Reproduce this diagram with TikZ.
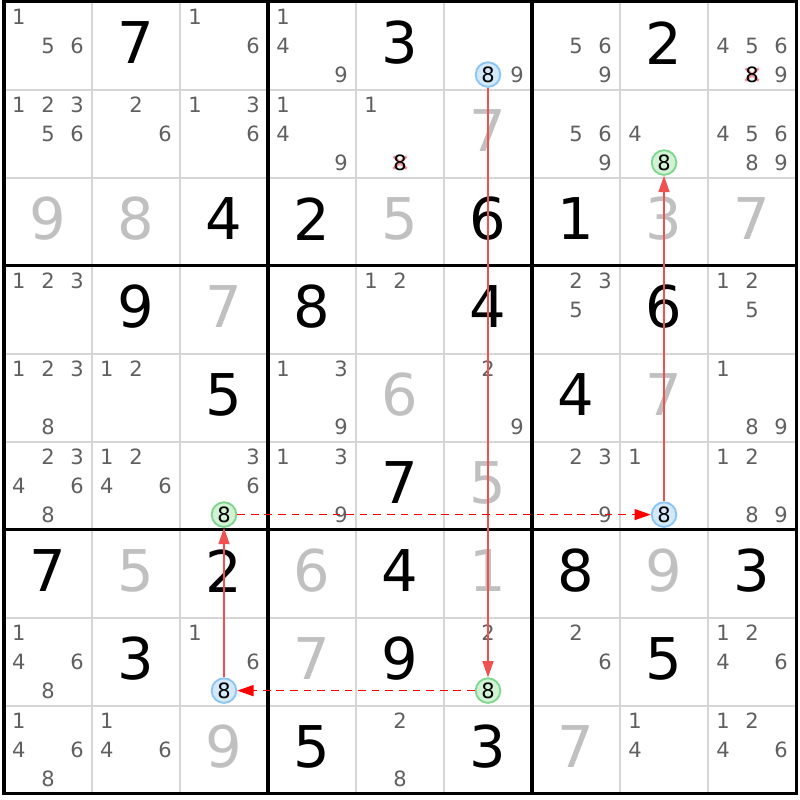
\documentclass[tikz,border=0pt]{standalone}
\usepackage{fontspec}
\setmainfont{DejaVu Sans}
\usetikzlibrary{arrows.meta}

\definecolor{candgray}{RGB}{96,96,96}
\definecolor{solvedgray}{RGB}{192,192,192}
\definecolor{gridgray}{RGB}{214,214,214}
\definecolor{markblue}{RGB}{140,196,244}
\definecolor{markbluefill}{RGB}{210,233,251}
\definecolor{markgreen}{RGB}{128,214,144}
\definecolor{markgreenfill}{RGB}{210,242,212}
\definecolor{linkred}{RGB}{240,80,80}
\definecolor{crossred}{RGB}{240,140,140}

\tikzset{
  given/.style={inner sep=0pt, text=black, font=\fontsize{18.6}{20}\selectfont},
  solved/.style={given, text=solvedgray},
  cand/.style={inner sep=0pt, text=candgray, font=\fontsize{6.8}{7}\selectfont},
  bluemark/.style={cand, text=black, circle, draw=markblue, fill=markbluefill, line width=0.6pt, minimum size=0.28cm},
  greenmark/.style={bluemark, draw=markgreen, fill=markgreenfill},
  thinline/.style={gridgray, line width=0.65pt},
  thickline/.style={black, line width=1pt},
  stronglink/.style={linkred, line width=0.45pt, -{Triangle[length=0.185cm, width=0.125cm]}},
  weaklink/.style={red, line width=0.45pt, dash pattern=on 2.5pt off 1.9pt, -{Triangle[length=0.185cm, width=0.125cm]}},
}

% position of candidate #3 in cell (#1,#2)
\newcommand\candpos[3]{%
  \pgfmathsetmacro\cx{#2-0.83+0.33*mod(#3-1,3)}%
  \pgfmathsetmacro\cy{-#1+0.83-0.33*int((#3-1)/3)}}
\newcommand\givendigit[3]{\node[given] (r#1c#2) at ({#2-0.5},{0.53-#1}) {#3};}
\newcommand\solveddigit[3]{\node[solved] (r#1c#2) at ({#2-0.5},{0.53-#1}) {#3};}
\newcommand\candlist[3]{%
  \foreach \d in {#3}{\candpos{#1}{#2}{\d}\node[cand] (r#1c#2-\d) at (\cx,\cy) {\d};}}
\newcommand\candmark[4]{%
  \candpos{#1}{#2}{#3}\node[#4] (r#1c#2-#3) at (\cx,\cy) {#3};}
\newcommand\candcross[3]{%
  \candpos{#1}{#2}{#3}%
  \draw[crossred, line width=0.8pt] (\cx-0.075,\cy-0.07) -- (\cx+0.075,\cy+0.07)
    (\cx-0.075,\cy+0.07) -- (\cx+0.075,\cy-0.07);
  \node[cand, text=black] (r#1c#2-#3) at (\cx,\cy) {#3};}

\begin{document}
\begin{tikzpicture}
  \useasboundingbox[fill=white] (-0.045,0.017) rectangle (9.045,-9.073);
  % grid
  \foreach \i in {1,2,4,5,7,8} {
    \draw[thinline] (\i,0) -- (\i,-9);
    \draw[thinline] (0,-\i) -- (9,-\i);
  }
  \foreach \i in {3,6} {
    \draw[thickline] (\i,0) -- (\i,-9);
    \draw[thickline] (0,-\i) -- (9,-\i);
  }
  \draw[thickline] (0,0) rectangle (9,-9);

  % row 1
  \candlist{1}{1}{1,5,6}
  \givendigit{1}{2}{7}
  \candlist{1}{3}{1,6}
  \candlist{1}{4}{1,4,9}
  \givendigit{1}{5}{3}
  \candlist{1}{6}{9}
  \candmark{1}{6}{8}{bluemark}
  \candlist{1}{7}{5,6,9}
  \givendigit{1}{8}{2}
  \candlist{1}{9}{4,5,6,9}
  \candcross{1}{9}{8}
  % row 2
  \candlist{2}{1}{1,2,3,5,6}
  \candlist{2}{2}{2,6}
  \candlist{2}{3}{1,3,6}
  \candlist{2}{4}{1,4,9}
  \candlist{2}{5}{1}
  \candcross{2}{5}{8}
  \solveddigit{2}{6}{7}
  \candlist{2}{7}{5,6,9}
  \candlist{2}{8}{4}
  \candmark{2}{8}{8}{greenmark}
  \candlist{2}{9}{4,5,6,8,9}
  % row 3
  \solveddigit{3}{1}{9}
  \solveddigit{3}{2}{8}
  \givendigit{3}{3}{4}
  \givendigit{3}{4}{2}
  \solveddigit{3}{5}{5}
  \givendigit{3}{6}{6}
  \givendigit{3}{7}{1}
  \solveddigit{3}{8}{3}
  \solveddigit{3}{9}{7}
  % row 4
  \candlist{4}{1}{1,2,3}
  \givendigit{4}{2}{9}
  \solveddigit{4}{3}{7}
  \givendigit{4}{4}{8}
  \candlist{4}{5}{1,2}
  \givendigit{4}{6}{4}
  \candlist{4}{7}{2,3,5}
  \givendigit{4}{8}{6}
  \candlist{4}{9}{1,2,5}
  % row 5
  \candlist{5}{1}{1,2,3,8}
  \candlist{5}{2}{1,2}
  \givendigit{5}{3}{5}
  \candlist{5}{4}{1,3,9}
  \solveddigit{5}{5}{6}
  \candlist{5}{6}{2,9}
  \givendigit{5}{7}{4}
  \solveddigit{5}{8}{7}
  \candlist{5}{9}{1,8,9}
  % row 6
  \candlist{6}{1}{2,3,4,6,8}
  \candlist{6}{2}{1,2,4,6}
  \candlist{6}{3}{3,6}
  \candmark{6}{3}{8}{greenmark}
  \candlist{6}{4}{1,3,9}
  \givendigit{6}{5}{7}
  \solveddigit{6}{6}{5}
  \candlist{6}{7}{2,3,9}
  \candlist{6}{8}{1}
  \candmark{6}{8}{8}{bluemark}
  \candlist{6}{9}{1,2,8,9}
  % row 7
  \givendigit{7}{1}{7}
  \solveddigit{7}{2}{5}
  \givendigit{7}{3}{2}
  \solveddigit{7}{4}{6}
  \givendigit{7}{5}{4}
  \solveddigit{7}{6}{1}
  \givendigit{7}{7}{8}
  \solveddigit{7}{8}{9}
  \givendigit{7}{9}{3}
  % row 8
  \candlist{8}{1}{1,4,6,8}
  \givendigit{8}{2}{3}
  \candlist{8}{3}{1,6}
  \candmark{8}{3}{8}{bluemark}
  \solveddigit{8}{4}{7}
  \givendigit{8}{5}{9}
  \candlist{8}{6}{2}
  \candmark{8}{6}{8}{greenmark}
  \candlist{8}{7}{2,6}
  \givendigit{8}{8}{5}
  \candlist{8}{9}{1,2,4,6}
  % row 9
  \candlist{9}{1}{1,4,6,8}
  \candlist{9}{2}{1,4,6}
  \solveddigit{9}{3}{9}
  \givendigit{9}{4}{5}
  \candlist{9}{5}{2,8}
  \givendigit{9}{6}{3}
  \solveddigit{9}{7}{7}
  \candlist{9}{8}{1,4}
  \candlist{9}{9}{1,2,4,6}

  % chain of links on digit 8
  \draw[stronglink] (r1c6-8) -- (r8c6-8);
  \draw[weaklink] (r8c6-8) -- (r8c3-8);
  \draw[stronglink] (r8c3-8) -- (r6c3-8);
  \draw[weaklink] (r6c3-8) -- (r6c8-8);
  \draw[stronglink] (r6c8-8) -- (r2c8-8);
\end{tikzpicture}
\end{document}
